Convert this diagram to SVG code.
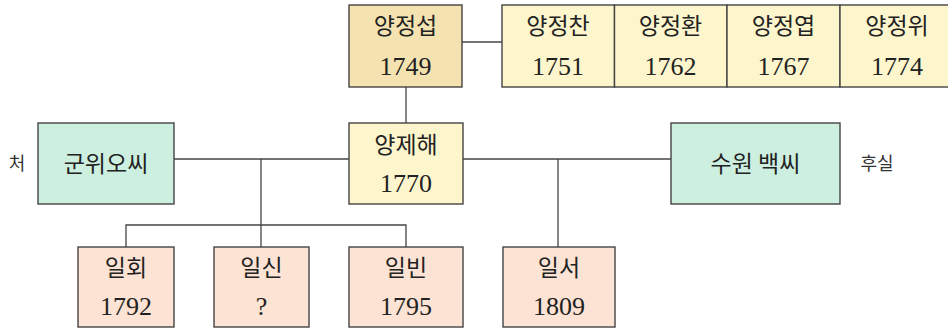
<svg xmlns="http://www.w3.org/2000/svg" width="948" height="328" viewBox="0 0 948 328">
<style>
.box{stroke:#444;stroke-width:1.4}
.tan{fill:#f4e2b0}
.yel{fill:#fdf5cc}
.mint{fill:#cdefe0}
.peach{fill:#fde3d4}
.t{font-family:"Liberation Serif","Noto Sans CJK KR",serif;font-size:24px;fill:#222;text-anchor:middle}
.k{font-family:"Noto Sans CJK KR","Liberation Serif",sans-serif;font-size:23px;fill:#222;text-anchor:middle}
.n{font-family:"Liberation Serif",serif;font-size:26px;fill:#222;text-anchor:middle}
.s{font-family:"Noto Sans CJK KR",sans-serif;font-size:18px;fill:#333;text-anchor:middle}
.c{stroke:#444;stroke-width:1.3;fill:none}
</style>
<rect width="948" height="328" fill="#ffffff"/>
<g id="connectors">
<line class="c" x1="462" y1="42" x2="502" y2="42"/>
<line class="c" x1="406" y1="87" x2="406" y2="123"/>
<line class="c" x1="174" y1="159" x2="349" y2="159"/>
<line class="c" x1="463" y1="159" x2="671" y2="159"/>
<line class="c" x1="261" y1="159" x2="261" y2="247"/>
<polyline class="c" points="126,247 126,225 406,225 406,247"/>
<line class="c" x1="558" y1="159" x2="558" y2="247"/>
</g>
<g id="yangjeongseop">
<rect class="box tan" x="349" y="5" width="113" height="82"/>
<text class="k" x="405.5" y="34">양정섭</text>
<text class="n" x="405.5" y="75">1749</text>
</g>
<g id="yangjeongchan">
<rect class="box yel" x="502" y="5" width="112.5" height="82"/>
<text class="k" x="558" y="34">양정찬</text>
<text class="n" x="558" y="75">1751</text>
</g>
<g id="yangjeonghwan">
<rect class="box yel" x="614.5" y="5" width="112.5" height="82"/>
<text class="k" x="670.5" y="34">양정환</text>
<text class="n" x="670.5" y="75">1762</text>
</g>
<g id="yangjeongyeop">
<rect class="box yel" x="727" y="5" width="113" height="82"/>
<text class="k" x="783.5" y="34">양정엽</text>
<text class="n" x="783.5" y="75">1767</text>
</g>
<g id="yangjeongwi">
<rect class="box yel" x="840" y="5" width="113" height="82"/>
<text class="k" x="897" y="34">양정위</text>
<text class="n" x="897" y="75">1774</text>
</g>
<g id="yangjehae">
<rect class="box yel" x="349" y="123" width="114" height="81"/>
<text class="k" x="406" y="153">양제해</text>
<text class="n" x="406" y="192">1770</text>
</g>
<g id="gunwi-o">
<rect class="box mint" x="38" y="123" width="136" height="81"/>
<text class="k" x="106" y="172">군위오씨</text>
<text class="s" x="17" y="170">처</text>
</g>
<g id="suwon-baek">
<rect class="box mint" x="671" y="123" width="169" height="81"/>
<text class="k" x="755.5" y="172">수원 백씨</text>
<text class="s" x="877" y="170">후실</text>
</g>
<g id="ilhoe">
<rect class="box peach" x="78" y="247" width="96" height="80"/>
<text class="k" x="126" y="276">일회</text>
<text class="n" x="126" y="315">1792</text>
</g>
<g id="ilsin">
<rect class="box peach" x="214" y="247" width="95" height="80"/>
<text class="k" x="261.5" y="276">일신</text>
<text class="n" x="261.5" y="315">?</text>
</g>
<g id="ilbin">
<rect class="box peach" x="349" y="247" width="114" height="80"/>
<text class="k" x="406" y="276">일빈</text>
<text class="n" x="406" y="315">1795</text>
</g>
<g id="ilseo">
<rect class="box peach" x="503" y="247" width="112" height="80"/>
<text class="k" x="559" y="276">일서</text>
<text class="n" x="559" y="315">1809</text>
</g>
</svg>
